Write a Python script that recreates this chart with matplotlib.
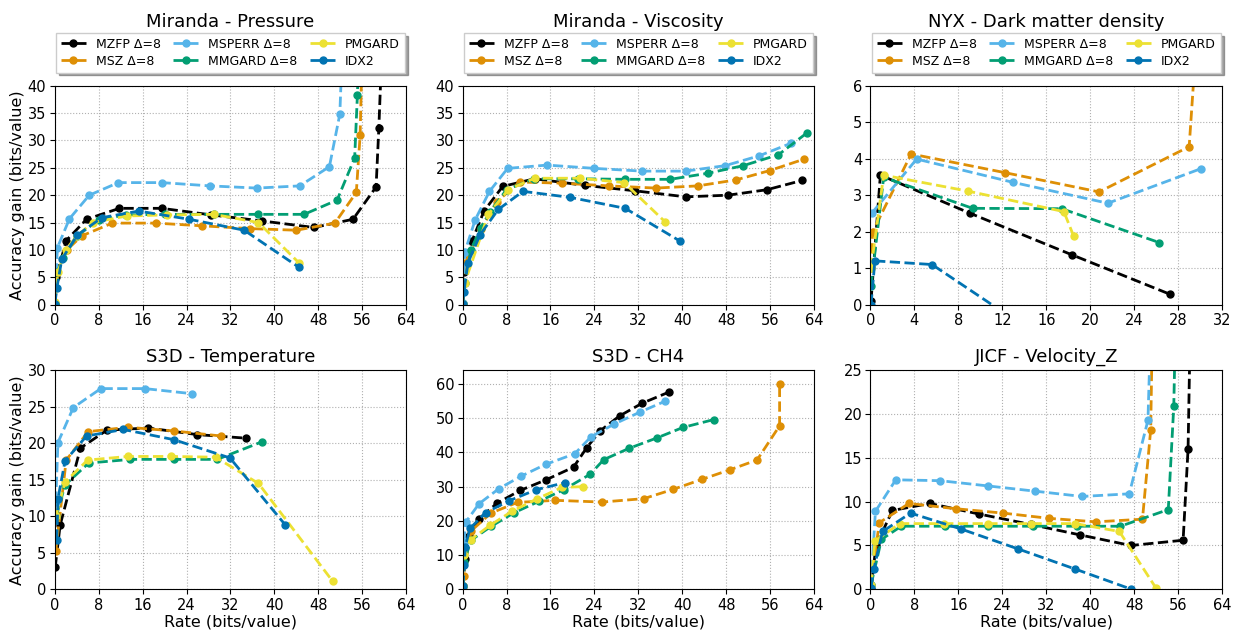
"""Rate vs accuracy-gain curves for six fields (2x3 grid)."""
import matplotlib
matplotlib.use("Agg")
import matplotlib.pyplot as plt

METHODS = ["MZFP Δ=8", "MSZ Δ=8", "MSPERR Δ=8", "MMGARD Δ=8", "PMGARD", "IDX2"]
COLORS = ["black", "#de8f05", "#56b4e9", "#029e73", "#ece133", "#0173b2"]

# (rate, gain) per method
pressure = {
    "MZFP Δ=8": ([0.05, 0.3, 2.1, 5.8, 11.8, 19.5, 28.5, 37.7, 47.2, 54.3, 58.5, 59.0, 59.6],
                 [0.2, 5.0, 11.7, 15.6, 17.6, 17.6, 16.4, 15.3, 14.1, 15.6, 21.5, 32.2, 48.0]),
    "MSZ Δ=8": ([0.05, 0.5, 2.2, 5.0, 10.5, 18.4, 26.9, 35.5, 44.0, 51.0, 54.9, 55.6, 56.0],
                [0.2, 5.9, 10.0, 12.6, 14.9, 14.9, 14.4, 13.9, 13.6, 14.9, 20.5, 31.0, 48.0]),
    "MSPERR Δ=8": ([0.05, 0.5, 2.7, 6.3, 11.6, 19.5, 28.3, 36.8, 44.6, 50.0, 51.9, 52.4],
                   [0.3, 10.4, 15.7, 20.0, 22.3, 22.3, 21.7, 21.3, 21.7, 25.2, 34.8, 48.0]),
    "MMGARD Δ=8": ([0.05, 0.5, 1.5, 4.0, 8.0, 13.0, 20.0, 29.0, 37.0, 45.4, 51.4, 54.6, 55.1, 55.4],
                   [0.2, 6.0, 8.5, 12.5, 15.5, 16.4, 16.5, 16.5, 16.5, 16.5, 19.1, 26.8, 38.3, 48.0]),
    "PMGARD": ([0.05, 0.6, 2.0, 4.0, 6.9, 13.1, 20.5, 29.0, 37.1, 44.5],
               [0.5, 6.0, 10.0, 12.5, 15.0, 16.2, 16.4, 16.5, 15.0, 7.6]),
    "IDX2": ([0.05, 0.4, 1.3, 4.1, 8.6, 15.3, 24.5, 34.5, 44.5],
             [0.2, 3.0, 8.3, 12.7, 15.9, 17.1, 15.6, 13.6, 6.8]),
}

viscosity = {
    "MZFP Δ=8": ([0.05, 0.3, 1.7, 3.9, 7.3, 13.1, 22.2, 31.4, 40.6, 48.3, 55.4, 61.8],
                 [0.2, 6.0, 11.6, 17.1, 21.6, 23.0, 21.8, 20.8, 19.7, 20.0, 21.0, 22.7]),
    "MSZ Δ=8": ([0.05, 0.5, 3.4, 6.2, 10.4, 18.1, 26.6, 35.2, 42.8, 49.8, 55.9, 62.2],
                [0.2, 7.7, 13.8, 18.8, 22.4, 22.2, 21.7, 21.3, 21.7, 22.8, 24.5, 26.6]),
    "MSPERR Δ=8": ([0.05, 0.4, 2.3, 4.9, 8.2, 15.4, 24.0, 32.6, 40.6, 47.8, 54.0, 59.8],
                   [0.3, 9.6, 15.5, 20.7, 24.9, 25.5, 24.9, 24.4, 24.4, 25.4, 27.2, 29.5]),
    "MMGARD Δ=8": ([0.05, 0.4, 1.5, 3.3, 5.0, 8.0, 13.0, 21.0, 29.6, 37.8, 44.6, 51.1, 57.5, 62.7],
                   [0.2, 4.0, 10.0, 14.0, 17.0, 21.0, 23.0, 23.0, 22.9, 22.9, 24.0, 25.4, 27.4, 31.4]),
    "PMGARD": ([0.05, 0.4, 4.7, 8.3, 13.1, 21.4, 29.4, 36.9],
               [0.2, 4.0, 16.5, 21.0, 23.1, 23.1, 22.3, 15.1]),
    "IDX2": ([0.05, 0.25, 1.0, 3.2, 6.5, 11.0, 19.6, 29.6, 39.6],
             [0.2, 2.4, 7.7, 12.8, 17.4, 20.7, 19.6, 17.6, 11.6]),
}

nyx = {
    "MZFP Δ=8": ([0.05, 0.9, 9.1, 18.3, 27.3],
                 [0.1, 3.55, 2.5, 1.37, 0.28]),
    "MSZ Δ=8": ([0.05, 0.2, 3.7, 12.2, 20.8, 29.0, 29.6],
                [1.0, 2.0, 4.13, 3.62, 3.09, 4.33, 7.0]),
    "MSPERR Δ=8": ([0.1, 4.2, 13.0, 21.6, 30.1],
                   [2.5, 3.99, 3.35, 2.78, 3.73]),
    "MMGARD Δ=8": ([0.05, 1.2, 9.3, 17.4, 26.3],
                   [0.5, 3.49, 2.64, 2.63, 1.70]),
    "PMGARD": ([0.05, 1.2, 8.9, 17.6, 18.5],
               [1.0, 3.55, 3.11, 2.55, 1.87]),
    "IDX2": ([0.05, 0.4, 5.6, 16.5],
             [0.0, 1.2, 1.1, -1.1]),
}

temperature = {
    "MZFP Δ=8": ([0.1, 1.0, 4.7, 9.5, 17.0, 25.9, 34.9],
                 [3.0, 8.8, 19.35, 21.8, 22.1, 21.2, 20.7]),
    "MSZ Δ=8": ([0.2, 2.1, 6.1, 13.3, 21.7, 30.3],
                [5.2, 17.7, 21.6, 22.2, 21.7, 21.0]),
    "MSPERR Δ=8": ([0.2, 0.6, 3.4, 8.4, 16.4, 25.0],
                   [12.0, 20.1, 24.9, 27.5, 27.5, 26.8]),
    "MMGARD Δ=8": ([0.3, 1.9, 6.2, 13.8, 21.7, 29.6, 37.7],
                   [10.0, 14.3, 17.3, 17.8, 17.8, 17.8, 20.2]),
    "PMGARD": ([0.2, 1.9, 6.0, 13.3, 21.2, 29.3, 37.1, 50.6],
               [10.0, 14.7, 17.7, 18.2, 18.2, 18.1, 14.5, 1.1]),
    "IDX2": ([0.4, 0.6, 1.9, 5.8, 12.5, 21.7, 31.9, 42.0],
             [6.8, 12.4, 17.6, 21.0, 21.9, 20.5, 18.0, 8.8]),
}

ch4 = {
    "MZFP Δ=8": ([0.1, 0.5, 1.1, 3.0, 6.3, 10.5, 15.2, 20.2, 22.6, 25.1, 28.6, 32.7, 37.5],
                 [1.0, 8.9, 15.6, 20.6, 25.2, 28.9, 32.0, 35.7, 41.4, 46.4, 50.7, 54.4, 57.6]),
    "MSZ Δ=8": ([0.1, 0.2, 1.5, 5.2, 10.0, 16.9, 25.4, 33.0, 38.3, 43.5, 48.6, 53.6, 57.7, 57.7],
                [1.0, 4.0, 17.0, 22.3, 25.4, 26.0, 25.5, 26.5, 29.2, 32.1, 34.9, 37.8, 47.8, 59.9]),
    "MSPERR Δ=8": ([0.1, 0.2, 0.65, 3.0, 6.6, 10.7, 15.1, 20.4, 23.4, 27.6, 32.3, 36.9],
                   [1.0, 13.7, 19.8, 25.0, 29.4, 33.1, 36.5, 39.6, 44.6, 48.3, 51.8, 55.0]),
    "MMGARD Δ=8": ([0.1, 0.3, 1.5, 5.2, 9.4, 13.9, 18.4, 23.2, 25.7, 30.3, 35.3, 40.1, 45.7],
                   [1.0, 8.0, 14.3, 18.4, 22.4, 25.7, 29.1, 33.6, 37.9, 41.2, 44.2, 47.3, 49.6]),
    "PMGARD": ([0.1, 0.3, 1.5, 5.0, 9.0, 13.5, 18.1, 21.9],
               [1.0, 10.0, 14.5, 18.7, 22.8, 26.4, 29.8, 30.0]),
    "IDX2": ([0.1, 0.3, 0.5, 1.35, 4.2, 8.5, 13.4, 18.7],
             [1.0, 7.0, 12.5, 17.8, 22.4, 25.9, 29.1, 31.2]),
}

velocity_z = {
    "MZFP Δ=8": ([0.1, 1.0, 4.0, 10.8, 19.7, 29.2, 38.2, 47.4, 56.9, 57.8, 58.2],
                 [0.0, 5.0, 9.0, 9.8, 8.6, 7.4, 6.2, 5.0, 5.6, 16.0, 30.0]),
    "MSZ Δ=8": ([0.1, 1.6, 7.0, 15.5, 24.1, 32.5, 41.0, 49.5, 51.0, 51.3],
                [0.5, 7.6, 9.8, 9.2, 8.7, 8.1, 7.7, 8.0, 18.2, 30.0]),
    "MSPERR Δ=8": ([0.1, 0.9, 4.6, 12.7, 21.4, 30.0, 38.5, 47.1, 50.5, 51.0],
                   [0.5, 8.9, 12.5, 12.4, 11.8, 11.2, 10.6, 10.9, 19.3, 30.0]),
    "MMGARD Δ=8": ([0.1, 2.0, 5.6, 13.6, 21.4, 29.5, 37.6, 45.5, 54.2, 55.2, 55.5],
                   [0.5, 5.7, 7.2, 7.2, 7.2, 7.2, 7.2, 7.2, 9.1, 20.9, 30.0]),
    "PMGARD": ([0.1, 0.8, 5.3, 13.4, 21.3, 29.3, 37.3, 45.3, 51.9],
               [0.5, 5.5, 7.5, 7.5, 7.5, 7.5, 7.5, 6.6, 0.2]),
    "IDX2": ([0.1, 0.6, 2.2, 7.3, 16.4, 26.9, 37.3, 47.5],
             [0.2, 2.3, 6.6, 8.7, 6.9, 4.6, 2.3, 0.0]),
}

PANELS = [
    ("Miranda - Pressure", pressure, (0, 64, 8), (0, 40, 5)),
    ("Miranda - Viscosity", viscosity, (0, 64, 8), (0, 40, 5)),
    ("NYX - Dark matter density", nyx, (0, 32, 4), (0, 6, 1)),
    ("S3D - Temperature", temperature, (0, 64, 8), (0, 30, 5)),
    ("S3D - CH4", ch4, (0, 64, 8), (0, 60, 10)),
    ("JICF - Velocity_Z", velocity_z, (0, 64, 8), (0, 25, 5)),
]

fig, axes = plt.subplots(2, 3, figsize=(12.42, 6.35), dpi=100)
fig.subplots_adjust(left=0.044, right=0.984, top=0.865, bottom=0.072,
                    wspace=0.16, hspace=0.30)

for i, (ax, (title, data, xr, yr)) in enumerate(zip(axes.flat, PANELS)):
    for name, color in zip(METHODS, COLORS):
        rate, gain = data[name]
        ax.plot(rate, gain, "o--", color=color, lw=2.0, ms=5, label=name)
    ax.set_xlim(xr[0], xr[1])
    ax.set_xticks(range(xr[0], xr[1] + 1, xr[2]))
    ax.set_yticks(range(yr[0], yr[1] + 1, yr[2]))
    if title == "S3D - CH4":
        ax.set_ylim(0, 64)
    else:
        ax.set_ylim(yr[0], yr[1])
    ax.grid(True, ls=":", color="#b0b0b0", lw=0.8)
    ax.tick_params(labelsize=10.5, pad=2.5)
    ax.set_title(title, fontsize=13, pad=6 if i >= 3 else 42)
    if i % 3 == 0:
        ax.set_ylabel("Accuracy gain (bits/value)", fontsize=11.5, labelpad=2)
    if i >= 3:
        ax.set_xlabel("Rate (bits/value)", fontsize=11.5, labelpad=1)
    else:
        ax.legend(ncol=3, loc="lower center", bbox_to_anchor=(0.5, 1.06),
                  fontsize=9, shadow=True, fancybox=False, borderaxespad=0,
                  handlelength=2.0, columnspacing=1.0, labelspacing=0.3)

fig.savefig("out.png", dpi=100)
